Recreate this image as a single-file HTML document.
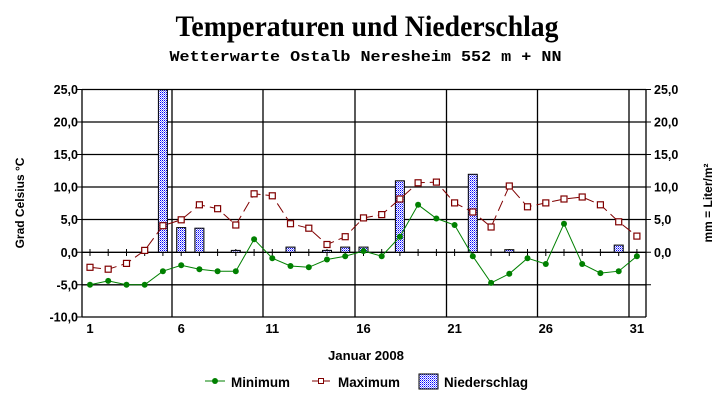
<!DOCTYPE html>
<html><head><meta charset="utf-8"><style>body{margin:0;background:#fff}svg{display:block}</style></head><body>
<svg width="727" height="404" xmlns="http://www.w3.org/2000/svg" font-family="Liberation Sans, sans-serif">
<defs><pattern id="p" width="2" height="2" patternUnits="userSpaceOnUse"><rect width="2" height="2" fill="#fff"/><rect width="1" height="1" fill="#0000ff"/><rect x="1" y="1" width="1" height="1" fill="#8080ff"/></pattern></defs>
<rect width="727" height="404" fill="#fff"/>
<text x="175.5" y="36" font-family="Liberation Serif, serif" font-weight="bold" font-size="30" textLength="383" lengthAdjust="spacingAndGlyphs">Temperaturen und Niederschlag</text>
<text x="169.5" y="61" font-family="Liberation Mono, monospace" font-weight="bold" font-size="15" textLength="392" lengthAdjust="spacingAndGlyphs">Wetterwarte Ostalb Neresheim 552 m + NN</text>
<g stroke="#000" stroke-width="1.3">
<line x1="82" y1="89.5" x2="646" y2="89.5"/><line x1="82" y1="122" x2="646" y2="122"/><line x1="82" y1="154.5" x2="646" y2="154.5"/><line x1="82" y1="187" x2="646" y2="187"/><line x1="82" y1="219.5" x2="646" y2="219.5"/><line x1="82" y1="252.3" x2="646" y2="252.3"/><line x1="82" y1="284.8" x2="646" y2="284.8"/><line x1="82" y1="317" x2="646" y2="317"/>
<line x1="82" y1="89.5" x2="82" y2="317"/><line x1="646" y1="89.5" x2="646" y2="317"/>
<line x1="172" y1="89.5" x2="172" y2="317"/><line x1="263" y1="89.5" x2="263" y2="317"/><line x1="355" y1="89.5" x2="355" y2="317"/><line x1="446.5" y1="89.5" x2="446.5" y2="317"/><line x1="537.5" y1="89.5" x2="537.5" y2="317"/><line x1="629" y1="89.5" x2="629" y2="317"/>
</g>
<g stroke="#000" stroke-width="1">
<path d="M90 249v7M108.2 249v7M126.5 249v7M144.7 249v7M162.9 249v7M181.2 249v7M199.4 249v7M217.6 249v7M235.8 249v7M254.1 249v7M272.3 249v7M290.5 249v7M308.8 249v7M327 249v7M345.2 249v7M363.5 249v7M381.7 249v7M399.9 249v7M418.1 249v7M436.4 249v7M454.6 249v7M472.8 249v7M491.1 249v7M509.3 249v7M527.5 249v7M545.8 249v7M564 249v7M582.2 249v7M600.4 249v7M618.7 249v7M636.9 249v7"/>
<path d="M77 89.5h5M77 122h5M77 154.5h5M77 187h5M77 219.5h5M77 252.3h5M77 284.8h5M77 317h5M646 89.5h5M646 122h5M646 154.5h5M646 187h5M646 219.5h5M646 252.3h5M646 284.8h5"/>
</g>
<g fill="url(#p)" stroke="#000" stroke-width="1">
<rect x="158.4" y="89.8" width="9" height="162.5"/>
<rect x="176.7" y="227.6" width="9" height="24.7"/>
<rect x="194.9" y="228.2" width="9" height="24.1"/>
<rect x="231.3" y="250.4" width="9" height="1.9"/>
<rect x="286" y="247.1" width="9" height="5.2"/>
<rect x="322.5" y="250.4" width="9" height="1.9"/>
<rect x="340.7" y="247.1" width="9" height="5.2"/>
<rect x="359" y="247.1" width="9" height="5.2"/>
<rect x="395.4" y="180.8" width="9" height="71.5"/>
<rect x="468.3" y="174.3" width="9" height="78"/>
<rect x="504.8" y="249.7" width="9" height="2.6"/>
<rect x="614.2" y="245.1" width="9" height="7.2"/>
</g>
<polyline fill="none" stroke="#800000" stroke-width="1" stroke-dasharray="11 5" points="90,267.3 108.2,269.2 126.5,263.4 144.7,250.4 162.9,225.7 181.2,219.8 199.4,204.8 217.6,208.7 235.8,225 254.1,193.8 272.3,195.8 290.5,223.7 308.8,228.2 327,244.5 345.2,236.7 363.5,217.9 381.7,214.6 399.9,199 418.1,182.8 436.4,182.1 454.6,202.9 472.8,212 491.1,227 509.3,186 527.5,206.8 545.8,202.9 564,199 582.2,197 600.4,204.8 618.7,221.8 636.9,236.1"/>
<g fill="#fff" stroke="#800000" stroke-width="1.2">
<rect x="87" y="264.3" width="6" height="6"/><rect x="105.2" y="266.2" width="6" height="6"/><rect x="123.5" y="260.4" width="6" height="6"/><rect x="141.7" y="247.4" width="6" height="6"/><rect x="159.9" y="222.7" width="6" height="6"/><rect x="178.2" y="216.8" width="6" height="6"/><rect x="196.4" y="201.8" width="6" height="6"/><rect x="214.6" y="205.7" width="6" height="6"/><rect x="232.8" y="222" width="6" height="6"/><rect x="251.1" y="190.8" width="6" height="6"/><rect x="269.3" y="192.8" width="6" height="6"/><rect x="287.5" y="220.7" width="6" height="6"/><rect x="305.8" y="225.2" width="6" height="6"/><rect x="324" y="241.5" width="6" height="6"/><rect x="342.2" y="233.7" width="6" height="6"/><rect x="360.5" y="214.9" width="6" height="6"/><rect x="378.7" y="211.6" width="6" height="6"/><rect x="396.9" y="196" width="6" height="6"/><rect x="415.1" y="179.8" width="6" height="6"/><rect x="433.4" y="179.1" width="6" height="6"/><rect x="451.6" y="199.9" width="6" height="6"/><rect x="469.8" y="209" width="6" height="6"/><rect x="488.1" y="224" width="6" height="6"/><rect x="506.3" y="183" width="6" height="6"/><rect x="524.5" y="203.8" width="6" height="6"/><rect x="542.8" y="199.9" width="6" height="6"/><rect x="561" y="196" width="6" height="6"/><rect x="579.2" y="194" width="6" height="6"/><rect x="597.4" y="201.8" width="6" height="6"/><rect x="615.7" y="218.8" width="6" height="6"/><rect x="633.9" y="233.1" width="6" height="6"/>
</g>
<polyline fill="none" stroke="#008000" stroke-width="1" points="90,284.8 108.2,280.9 126.5,284.8 144.7,284.8 162.9,271.2 181.2,265.3 199.4,269.2 217.6,271.2 235.8,271.2 254.1,239.3 272.3,258.2 290.5,266 308.8,267.3 327,259.5 345.2,256.2 363.5,251 381.7,256.2 399.9,236.7 418.1,204.8 436.4,218.5 454.6,225 472.8,256.2 491.1,282.9 509.3,273.8 527.5,258.2 545.8,264 564,223.7 582.2,264 600.4,273.1 618.7,271.2 636.9,256.2"/>
<g fill="#008000">
<circle cx="90" cy="284.8" r="3"/><circle cx="108.2" cy="280.9" r="3"/><circle cx="126.5" cy="284.8" r="3"/><circle cx="144.7" cy="284.8" r="3"/><circle cx="162.9" cy="271.2" r="3"/><circle cx="181.2" cy="265.3" r="3"/><circle cx="199.4" cy="269.2" r="3"/><circle cx="217.6" cy="271.2" r="3"/><circle cx="235.8" cy="271.2" r="3"/><circle cx="254.1" cy="239.3" r="3"/><circle cx="272.3" cy="258.2" r="3"/><circle cx="290.5" cy="266" r="3"/><circle cx="308.8" cy="267.3" r="3"/><circle cx="327" cy="259.5" r="3"/><circle cx="345.2" cy="256.2" r="3"/><circle cx="363.5" cy="251" r="3"/><circle cx="381.7" cy="256.2" r="3"/><circle cx="399.9" cy="236.7" r="3"/><circle cx="418.1" cy="204.8" r="3"/><circle cx="436.4" cy="218.5" r="3"/><circle cx="454.6" cy="225" r="3"/><circle cx="472.8" cy="256.2" r="3"/><circle cx="491.1" cy="282.9" r="3"/><circle cx="509.3" cy="273.8" r="3"/><circle cx="527.5" cy="258.2" r="3"/><circle cx="545.8" cy="264" r="3"/><circle cx="564" cy="223.7" r="3"/><circle cx="582.2" cy="264" r="3"/><circle cx="600.4" cy="273.1" r="3"/><circle cx="618.7" cy="271.2" r="3"/><circle cx="636.9" cy="256.2" r="3"/>
</g>
<g font-size="12.5" font-weight="bold" text-anchor="end">
<text x="78" y="94">25,0</text><text x="78" y="126.5">20,0</text><text x="78" y="159">15,0</text><text x="78" y="191.5">10,0</text><text x="78" y="224">5,0</text><text x="78" y="256.8">0,0</text><text x="78" y="289.3">-5,0</text><text x="78" y="321.5">-10,0</text>
</g>
<g font-size="12.5" font-weight="bold">
<text x="654" y="94">25,0</text><text x="654" y="126.5">20,0</text><text x="654" y="159">15,0</text><text x="654" y="191.5">10,0</text><text x="654" y="224">5,0</text><text x="654" y="256.8">0,0</text>
</g>
<g font-size="13" font-weight="bold" text-anchor="middle">
<text x="90" y="333">1</text><text x="181.2" y="333">6</text><text x="272.3" y="333">11</text><text x="363.5" y="333">16</text><text x="454.6" y="333">21</text><text x="545.8" y="333">26</text><text x="636.9" y="333">31</text>
</g>
<text x="328" y="360" font-size="13" font-weight="bold" textLength="76" lengthAdjust="spacingAndGlyphs">Januar 2008</text>
<text transform="translate(24 203) rotate(-90)" text-anchor="middle" font-size="12" font-weight="bold">Grad Celsius °C</text>
<text transform="translate(712 203) rotate(-90)" text-anchor="middle" font-size="12" font-weight="bold">mm = Liter/m²</text>
<g font-size="14" font-weight="bold">
<line x1="205" y1="381" x2="225" y2="381" stroke="#008000"/><circle cx="215" cy="381" r="3" fill="#008000"/>
<text x="231" y="387" textLength="59" lengthAdjust="spacingAndGlyphs">Minimum</text>
<line x1="312" y1="381" x2="330" y2="381" stroke="#800000"/><rect x="318.5" y="378.5" width="5" height="5" fill="#fff" stroke="#800000"/>
<text x="338" y="387" textLength="62" lengthAdjust="spacingAndGlyphs">Maximum</text>
<rect x="419" y="374" width="19" height="15" fill="url(#p)" stroke="#000"/>
<text x="444" y="387" textLength="84" lengthAdjust="spacingAndGlyphs">Niederschlag</text>
</g>
</svg>
</body></html>
